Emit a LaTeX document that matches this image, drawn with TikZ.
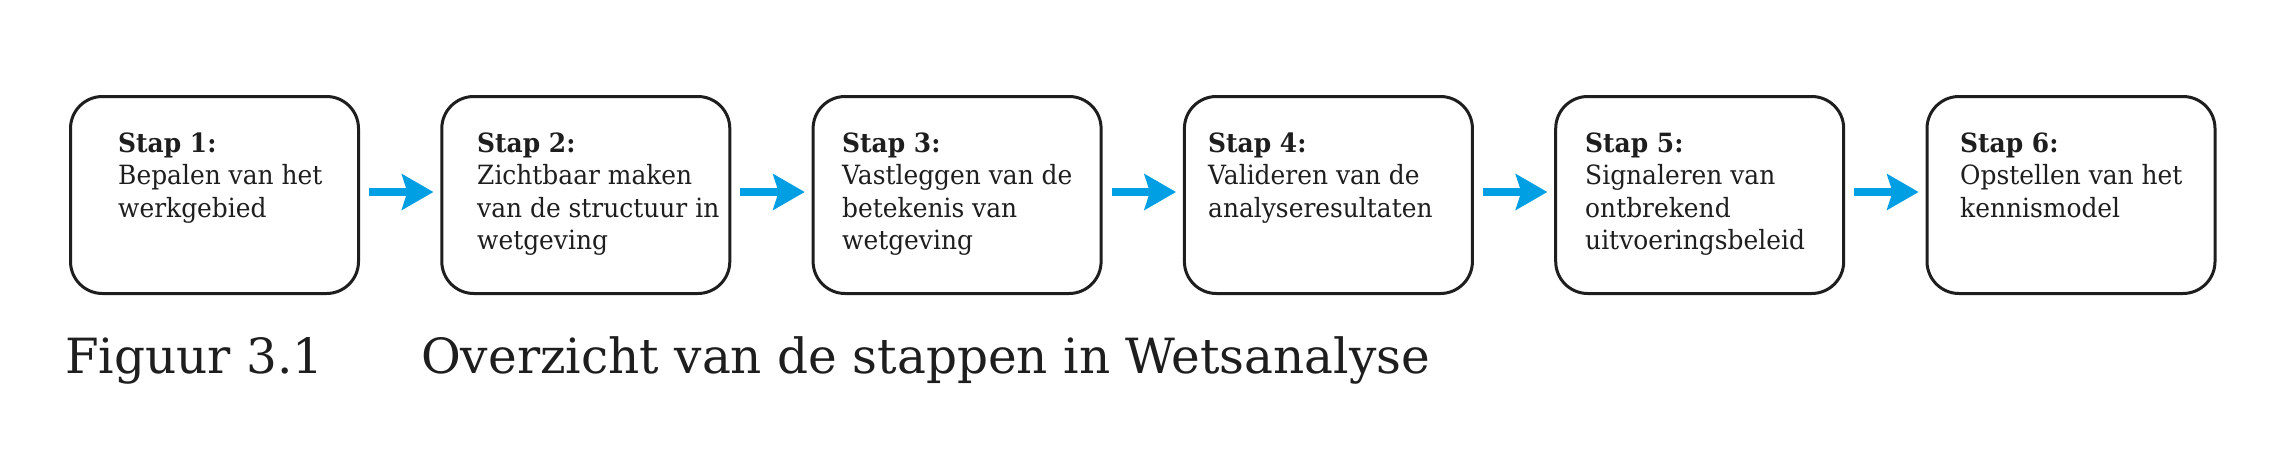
\documentclass[tikz,border=0pt]{standalone}
\usepackage{fontspec}
\setmainfont{DejaVu Serif}
\newfontfamily\boxfont{DejaVu Serif}[FakeStretch=0.94]
\usetikzlibrary{arrows.meta}
\definecolor{ink}{HTML}{1E1E1E}
\definecolor{flowblue}{HTML}{009FE3}
\newcommand{\steptext}[1]{\vtop{\baselineskip=32.5pt #1}}
\begin{document}
\begin{tikzpicture}[x=1pt,y=-1pt,
  stepbox/.style={draw=ink, line width=3pt, rounded corners=32pt,
    minimum width=288pt, minimum height=197pt, inner sep=0pt, fill=white},
  steplabel/.style={anchor=base west, inner sep=0pt, text=ink,
    font=\boxfont\fontsize{26.5}{32.5}\selectfont},
  caption/.style={anchor=base west, inner sep=0pt, text=ink,
    font=\fontsize{48.5}{56}\selectfont},
  flow/.style={draw=flowblue, line width=8pt,
    -{Stealth[length=32pt,width=37pt,inset=6pt,line width=0pt]},
    shorten <=9pt, shorten >=7pt}]
\useasboundingbox (0,0) rectangle (2274,452);
\foreach \i in {1,...,6} {
  \node[stepbox] (b\i) at ({214.5+371.3*(\i-1)},195) {};
}
\node[steplabel] (t1) at (118,152) {\steptext{\hbox{\textbf{Stap 1:}}\hbox{Bepalen van het}\hbox{werkgebied}}};
\node[steplabel] (t2) at (477,152) {\steptext{\hbox{\textbf{Stap 2:}}\hbox{Zichtbaar maken}\hbox{van de structuur in}\hbox{wetgeving}}};
\node[steplabel] (t3) at (842,152) {\steptext{\hbox{\textbf{Stap 3:}}\hbox{Vastleggen van de}\hbox{betekenis van}\hbox{wetgeving}}};
\node[steplabel] (t4) at (1208,152) {\steptext{\hbox{\textbf{Stap 4:}}\hbox{Valideren van de}\hbox{analyseresultaten}}};
\node[steplabel] (t5) at (1585,152) {\steptext{\hbox{\textbf{Stap 5:}}\hbox{Signaleren van}\hbox{ontbrekend}\hbox{uitvoeringsbeleid}}};
\node[steplabel] (t6) at (1960,152) {\steptext{\hbox{\textbf{Stap 6:}}\hbox{Opstellen van het}\hbox{kennismodel}}};
\foreach \i [evaluate=\i as \j using int(\i+1)] in {1,...,5} {
  \draw[flow] ([yshift=3pt]b\i.east) -- ([yshift=3pt]b\j.west);
}
\node[caption] (fig) at (65,373) {Figuur 3.1};
\node[caption] (cap) at (421,373) {Overzicht van de stappen in Wetsanalyse};
\end{tikzpicture}
\end{document}
